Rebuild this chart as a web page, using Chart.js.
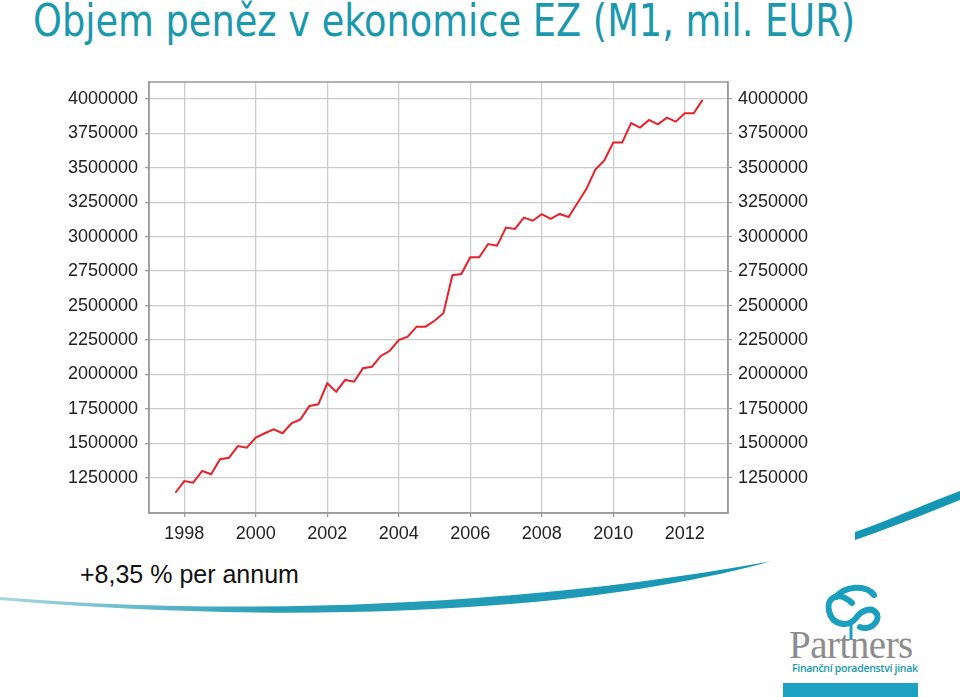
<!DOCTYPE html>
<html>
<head>
<meta charset="utf-8">
<script src="https://cdn.jsdelivr.net/npm/chart.js@4/dist/chart.umd.min.js"></script>
<style>
  html, body { margin: 0; padding: 0; background: #ffffff; }
  body { width: 960px; height: 697px; position: relative; overflow: hidden; }
  #title { position: absolute; left: 33px; top: -5px; font-family: "DejaVu Sans Condensed", "DejaVu Sans", sans-serif; font-size: 44px; color: #1a98ae; white-space: nowrap; transform-origin: left top; }
  #chartBox { position: absolute; left: 0; top: 0; width: 960px; height: 560px; }
  #growth { position: absolute; left: 80px; top: 560px; font-family: "Liberation Sans", Arial, sans-serif; font-size: 25px; color: #111; white-space: nowrap; }
  #deco { position: absolute; left: 0; top: 0; }
  #partners { position: absolute; left: 789px; top: 622px; font-family: "Liberation Serif", serif; font-size: 39px; color: #8c8c8c; white-space: nowrap; letter-spacing: -0.5px; }
  #slogan { position: absolute; left: 792px; top: 661px; font-family: "Open Sans", sans-serif; font-weight: 600; font-size: 10.5px; color: #1a98ae; white-space: nowrap; letter-spacing: -0.3px; }
</style>
</head>
<body>
<svg id="deco" width="960" height="697" viewBox="0 0 960 697">
  <defs>
    <linearGradient id="sw" x1="0" y1="0" x2="1" y2="0">
      <stop offset="0" stop-color="#a9d6e0"/>
      <stop offset="0.35" stop-color="#2a9fb8"/>
      <stop offset="1" stop-color="#1596b4"/>
    </linearGradient>
  </defs>
  <path d="M0,597 C250,618 540,604 772,561 C560,619 260,622 0,600 Z" fill="url(#sw)"/>
  <path d="M855,532 C890,520 925,504 960,491 L960,500 C925,514 890,528 855,540 Z" fill="#1596b4"/>
  <!-- emblem -->
  <path d="M852,603 C838,590 826,598 829,611 C832,625 848,628 856,618 C862,610 872,606 877,614 C880,622 870,631 860,627" fill="none" stroke="#1a9fbf" stroke-width="6" stroke-linecap="round"/>
  <path d="M836,597 C845,586 866,584 874,595" fill="none" stroke="#1a9fbf" stroke-width="6" stroke-linecap="round"/>
  <path d="M851,624 L851,640" stroke="#1a9fbf" stroke-width="3"/>
  <rect x="783" y="683" width="135" height="14" fill="#1da2c4"/>
</svg>
<div id="title">Objem peněz v ekonomice EZ (M1, mil. EUR)</div>
<div id="chartBox"><canvas id="c" width="960" height="560"></canvas></div>
<div id="growth">+8,35 % per annum</div>
<div id="partners">Partners</div>
<div id="slogan">Finanční poradenství jinak</div>
<script>
// ---- data ----
const quarters = [
  "1997-Q3","1997-Q4",
  "1998-Q1","1998-Q2","1998-Q3","1998-Q4",
  "1999-Q1","1999-Q2","1999-Q3","1999-Q4",
  "2000-Q1","2000-Q2","2000-Q3","2000-Q4",
  "2001-Q1","2001-Q2","2001-Q3","2001-Q4",
  "2002-Q1","2002-Q2","2002-Q3","2002-Q4",
  "2003-Q1","2003-Q2","2003-Q3","2003-Q4",
  "2004-Q1","2004-Q2","2004-Q3","2004-Q4",
  "2005-Q1","2005-Q2","2005-Q3","2005-Q4",
  "2006-Q1","2006-Q2","2006-Q3","2006-Q4",
  "2007-Q1","2007-Q2","2007-Q3","2007-Q4",
  "2008-Q1","2008-Q2","2008-Q3","2008-Q4",
  "2009-Q1","2009-Q2","2009-Q3","2009-Q4",
  "2010-Q1","2010-Q2","2010-Q3","2010-Q4",
  "2011-Q1","2011-Q2","2011-Q3","2011-Q4",
  "2012-Q1","2012-Q2"
];
const m1Values = [
  1141000, 1226000, 1214000, 1299000, 1275000, 1384000, 1395000, 1480000, 1468000, 1541000,
  1573000, 1602000, 1573000, 1645000, 1674000, 1771000, 1783000, 1936000, 1875000, 1960000,
  1947000, 2045000, 2056000, 2134000, 2172000, 2250000, 2274000, 2347000, 2347000, 2390000,
  2444000, 2720000, 2729000, 2851000, 2851000, 2947000, 2935000, 3066000, 3056000, 3138000,
  3116000, 3163000, 3129000, 3165000, 3143000, 3245000, 3347000, 3488000, 3553000, 3683000,
  3683000, 3824000, 3792000, 3848000, 3816000, 3864000, 3835000, 3896000, 3896000, 3993000
];
const xTickYears = [1998, 2000, 2002, 2004, 2006, 2008, 2010, 2012];
const yTickValues = [1250000, 1500000, 1750000, 2000000, 2250000, 2500000, 2750000, 3000000, 3250000, 3500000, 3750000, 4000000];

// quarter label -> decimal year (end of quarter)
function quarterToYear(q) {
  const parts = q.split("-Q");
  return Number(parts[0]) + Number(parts[1]) * 0.25;
}
const points = quarters.map((q, i) => ({ x: quarterToYear(q), y: m1Values[i] }));

// title width fit
const t = document.getElementById("title");
const tw = t.getBoundingClientRect().width;
t.style.transform = "scaleX(" + (822 / tw) + ")";

const frame = {
  id: "frame",
  afterDraw(chart) {
    const a = chart.chartArea, ctx = chart.ctx;
    ctx.save();
    ctx.strokeStyle = "#9a9a9a";
    ctx.lineWidth = 1.5;
    ctx.strokeRect(a.left, a.top, a.right - a.left, a.bottom - a.top);
    ctx.restore();
  }
};

const tickFont = { family: "'Liberation Sans', Arial, sans-serif", size: 18 };

new Chart(document.getElementById("c"), {
  type: "line",
  data: {
    datasets: [{
      data: points,
      borderColor: "#e8202a",
      borderWidth: 2,
      pointRadius: 0,
      tension: 0,
      fill: false
    }]
  },
  options: {
    responsive: false,
    animation: false,
    layout: { padding: { top: 82, left: 0, right: 0, bottom: 0 } },
    plugins: { legend: { display: false }, tooltip: { enabled: false } },
    scales: {
      x: {
        type: "linear",
        min: 1997.013,
        max: 2013.21,
        afterBuildTicks: s => { s.ticks = xTickYears.map(v => ({ value: v })); },
        afterFit: s => { s.height = 47; },
        grid: { color: "#cccccc", lineWidth: 1.3, tickLength: 4, tickColor: "#9a9a9a" },
        border: { color: "#9a9a9a", width: 1.5 },
        ticks: { font: tickFont, color: "#222", padding: 6, maxRotation: 0, callback: v => String(v) }
      },
      y: {
        position: "left",
        min: 994000,
        max: 4123000,
        afterBuildTicks: s => { s.ticks = yTickValues.map(v => ({ value: v })); },
        afterFit: s => { s.width = 149; },
        grid: { color: "#cccccc", lineWidth: 1.3, tickLength: 4, tickColor: "#9a9a9a" },
        border: { color: "#9a9a9a", width: 1.5 },
        ticks: { font: tickFont, color: "#222", padding: 7, callback: v => String(v) }
      },
      y2: {
        position: "right",
        min: 994000,
        max: 4123000,
        afterBuildTicks: s => { s.ticks = yTickValues.map(v => ({ value: v })); },
        afterFit: s => { s.width = 232; },
        grid: { drawOnChartArea: false, tickLength: 4, tickColor: "#9a9a9a" },
        border: { color: "#9a9a9a", width: 1.5 },
        ticks: { font: tickFont, color: "#222", padding: 6, callback: v => String(v) }
      }
    }
  },
  plugins: [frame]
});
</script>
</body>
</html>
